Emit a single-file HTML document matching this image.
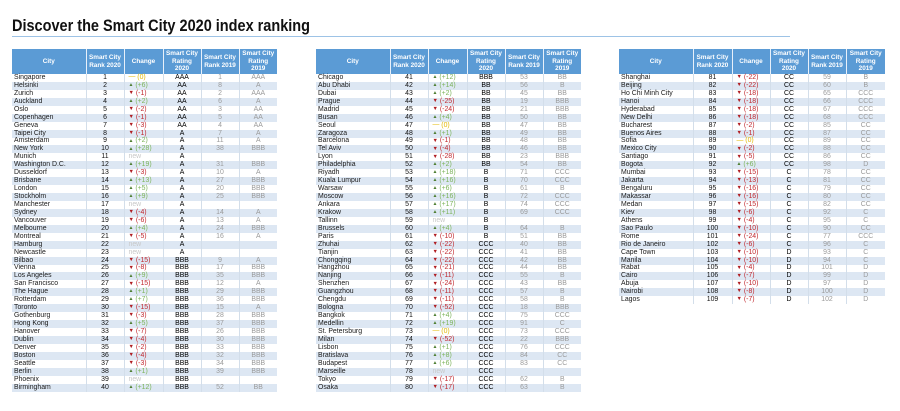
<!DOCTYPE html>
<html><head><meta charset="utf-8"><style>
*{margin:0;padding:0;box-sizing:border-box}
body{width:900px;height:411px;background:#fff;position:relative;overflow:hidden;font-family:"Liberation Sans",Arial,sans-serif}
#title{position:absolute;left:12px;top:13px}
#rule{position:absolute;left:12px;top:36px;width:778px;height:1px;background:#9dc3e6}
table{position:absolute;top:49px;border-collapse:collapse;table-layout:fixed;font-size:6.9px;color:#111}
th{background:#5b9bd5;color:#fff;font-weight:bold;height:25px;line-height:7.6px;font-size:6.4px;border-right:1px solid #e8f0fa;text-align:center;vertical-align:middle}
th:last-child{border-right:none}
tbody tr{height:7.95px}
td{height:7.95px;max-height:7.95px;line-height:6px;white-space:nowrap;text-align:center;border-right:1px solid #d3deea;vertical-align:middle}
td:last-child{border-right:none}
tbody tr:nth-child(even) td{background:#dde7f3}
td:first-child{text-align:left;padding-left:2px;color:#1a1a1a}
td:nth-child(3){text-align:left;padding-left:4px}
td:nth-child(4){color:#000}
td:nth-child(5),td:nth-child(6){color:#9a9a9a}
i{font-style:normal;line-height:0;display:inline-block;vertical-align:middle}
.u{color:#7cb35a}.u i{color:#4f7f33;font-size:5px}
.d{color:#c0272d}.d i{color:#b01e23;font-size:5.5px}
.n{color:#c8c8c8}
.z{color:#e2b800}
</style></head><body>
<svg id="title" width="320" height="24"><text x="0" y="18" font-family="Liberation Sans, sans-serif" font-weight="bold" font-size="17" fill="#111" textLength="298" lengthAdjust="spacingAndGlyphs">Discover the Smart City 2020 index ranking</text></svg>
<div id="rule"></div>

<table style="left:12px;width:265px">
<colgroup><col style="width:74px"><col style="width:38px"><col style="width:39px"><col style="width:38px"><col style="width:38px"><col style="width:38px"></colgroup>
<thead><tr><th>City</th><th>Smart City<br>Rank 2020</th><th>Change</th><th>Smart City<br>Rating<br>2020</th><th>Smart City<br>Rank 2019</th><th>Smart City<br>Rating<br>2019</th></tr></thead>
<tbody>
<tr><td>Singapore</td><td>1</td><td class="z"><i>—</i> (0)</td><td>AAA</td><td>1</td><td>AAA</td></tr>
<tr><td>Helsinki</td><td>2</td><td class="u"><i>▲</i> (+6)</td><td>AA</td><td>8</td><td>A</td></tr>
<tr><td>Zurich</td><td>3</td><td class="d"><i>▼</i> (-1)</td><td>AA</td><td>2</td><td>AAA</td></tr>
<tr><td>Auckland</td><td>4</td><td class="u"><i>▲</i> (+2)</td><td>AA</td><td>6</td><td>A</td></tr>
<tr><td>Oslo</td><td>5</td><td class="d"><i>▼</i> (-2)</td><td>AA</td><td>3</td><td>AA</td></tr>
<tr><td>Copenhagen</td><td>6</td><td class="d"><i>▼</i> (-1)</td><td>AA</td><td>5</td><td>AA</td></tr>
<tr><td>Geneva</td><td>7</td><td class="d"><i>▼</i> (-3)</td><td>AA</td><td>4</td><td>AA</td></tr>
<tr><td>Taipei City</td><td>8</td><td class="d"><i>▼</i> (-1)</td><td>A</td><td>7</td><td>A</td></tr>
<tr><td>Amsterdam</td><td>9</td><td class="u"><i>▲</i> (+2)</td><td>A</td><td>11</td><td>A</td></tr>
<tr><td>New York</td><td>10</td><td class="u"><i>▲</i> (+28)</td><td>A</td><td>38</td><td>BBB</td></tr>
<tr><td>Munich</td><td>11</td><td class="n">new</td><td>A</td><td></td><td></td></tr>
<tr><td>Washington D.C.</td><td>12</td><td class="u"><i>▲</i> (+19)</td><td>A</td><td>31</td><td>BBB</td></tr>
<tr><td>Dusseldorf</td><td>13</td><td class="d"><i>▼</i> (-3)</td><td>A</td><td>10</td><td>A</td></tr>
<tr><td>Brisbane</td><td>14</td><td class="u"><i>▲</i> (+13)</td><td>A</td><td>27</td><td>BBB</td></tr>
<tr><td>London</td><td>15</td><td class="u"><i>▲</i> (+5)</td><td>A</td><td>20</td><td>BBB</td></tr>
<tr><td>Stockholm</td><td>16</td><td class="u"><i>▲</i> (+9)</td><td>A</td><td>25</td><td>BBB</td></tr>
<tr><td>Manchester</td><td>17</td><td class="n">new</td><td>A</td><td></td><td></td></tr>
<tr><td>Sydney</td><td>18</td><td class="d"><i>▼</i> (-4)</td><td>A</td><td>14</td><td>A</td></tr>
<tr><td>Vancouver</td><td>19</td><td class="d"><i>▼</i> (-6)</td><td>A</td><td>13</td><td>A</td></tr>
<tr><td>Melbourne</td><td>20</td><td class="u"><i>▲</i> (+4)</td><td>A</td><td>24</td><td>BBB</td></tr>
<tr><td>Montreal</td><td>21</td><td class="d"><i>▼</i> (-5)</td><td>A</td><td>16</td><td>A</td></tr>
<tr><td>Hamburg</td><td>22</td><td class="n">new</td><td>A</td><td></td><td></td></tr>
<tr><td>Newcastle</td><td>23</td><td class="n">new</td><td>A</td><td></td><td></td></tr>
<tr><td>Bilbao</td><td>24</td><td class="d"><i>▼</i> (-15)</td><td>BBB</td><td>9</td><td>A</td></tr>
<tr><td>Vienna</td><td>25</td><td class="d"><i>▼</i> (-8)</td><td>BBB</td><td>17</td><td>BBB</td></tr>
<tr><td>Los Angeles</td><td>26</td><td class="u"><i>▲</i> (+9)</td><td>BBB</td><td>35</td><td>BBB</td></tr>
<tr><td>San Francisco</td><td>27</td><td class="d"><i>▼</i> (-15)</td><td>BBB</td><td>12</td><td>A</td></tr>
<tr><td>The Hague</td><td>28</td><td class="u"><i>▲</i> (+1)</td><td>BBB</td><td>29</td><td>BBB</td></tr>
<tr><td>Rotterdam</td><td>29</td><td class="u"><i>▲</i> (+7)</td><td>BBB</td><td>36</td><td>BBB</td></tr>
<tr><td>Toronto</td><td>30</td><td class="d"><i>▼</i> (-15)</td><td>BBB</td><td>15</td><td>A</td></tr>
<tr><td>Gothenburg</td><td>31</td><td class="d"><i>▼</i> (-3)</td><td>BBB</td><td>28</td><td>BBB</td></tr>
<tr><td>Hong Kong</td><td>32</td><td class="u"><i>▲</i> (+5)</td><td>BBB</td><td>37</td><td>BBB</td></tr>
<tr><td>Hanover</td><td>33</td><td class="d"><i>▼</i> (-7)</td><td>BBB</td><td>26</td><td>BBB</td></tr>
<tr><td>Dublin</td><td>34</td><td class="d"><i>▼</i> (-4)</td><td>BBB</td><td>30</td><td>BBB</td></tr>
<tr><td>Denver</td><td>35</td><td class="d"><i>▼</i> (-2)</td><td>BBB</td><td>33</td><td>BBB</td></tr>
<tr><td>Boston</td><td>36</td><td class="d"><i>▼</i> (-4)</td><td>BBB</td><td>32</td><td>BBB</td></tr>
<tr><td>Seattle</td><td>37</td><td class="d"><i>▼</i> (-3)</td><td>BBB</td><td>34</td><td>BBB</td></tr>
<tr><td>Berlin</td><td>38</td><td class="u"><i>▲</i> (+1)</td><td>BBB</td><td>39</td><td>BBB</td></tr>
<tr><td>Phoenix</td><td>39</td><td class="n">new</td><td>BBB</td><td></td><td></td></tr>
<tr><td>Birmingham</td><td>40</td><td class="u"><i>▲</i> (+12)</td><td>BBB</td><td>52</td><td>BB</td></tr>
</tbody></table>

<table style="left:316px;width:265px">
<colgroup><col style="width:74px"><col style="width:38px"><col style="width:39px"><col style="width:38px"><col style="width:38px"><col style="width:38px"></colgroup>
<thead><tr><th>City</th><th>Smart City<br>Rank 2020</th><th>Change</th><th>Smart City<br>Rating<br>2020</th><th>Smart City<br>Rank 2019</th><th>Smart City<br>Rating<br>2019</th></tr></thead>
<tbody>
<tr><td>Chicago</td><td>41</td><td class="u"><i>▲</i> (+12)</td><td>BBB</td><td>53</td><td>BB</td></tr>
<tr><td>Abu Dhabi</td><td>42</td><td class="u"><i>▲</i> (+14)</td><td>BB</td><td>56</td><td>B</td></tr>
<tr><td>Dubai</td><td>43</td><td class="u"><i>▲</i> (+2)</td><td>BB</td><td>45</td><td>BB</td></tr>
<tr><td>Prague</td><td>44</td><td class="d"><i>▼</i> (-25)</td><td>BB</td><td>19</td><td>BBB</td></tr>
<tr><td>Madrid</td><td>45</td><td class="d"><i>▼</i> (-24)</td><td>BB</td><td>21</td><td>BBB</td></tr>
<tr><td>Busan</td><td>46</td><td class="u"><i>▲</i> (+4)</td><td>BB</td><td>50</td><td>BB</td></tr>
<tr><td>Seoul</td><td>47</td><td class="z"><i>—</i> (0)</td><td>BB</td><td>47</td><td>BB</td></tr>
<tr><td>Zaragoza</td><td>48</td><td class="u"><i>▲</i> (+1)</td><td>BB</td><td>49</td><td>BB</td></tr>
<tr><td>Barcelona</td><td>49</td><td class="d"><i>▼</i> (-1)</td><td>BB</td><td>48</td><td>BB</td></tr>
<tr><td>Tel Aviv</td><td>50</td><td class="d"><i>▼</i> (-4)</td><td>BB</td><td>46</td><td>BB</td></tr>
<tr><td>Lyon</td><td>51</td><td class="d"><i>▼</i> (-28)</td><td>BB</td><td>23</td><td>BBB</td></tr>
<tr><td>Philadelphia</td><td>52</td><td class="u"><i>▲</i> (+2)</td><td>BB</td><td>54</td><td>BB</td></tr>
<tr><td>Riyadh</td><td>53</td><td class="u"><i>▲</i> (+18)</td><td>B</td><td>71</td><td>CCC</td></tr>
<tr><td>Kuala Lumpur</td><td>54</td><td class="u"><i>▲</i> (+16)</td><td>B</td><td>70</td><td>CCC</td></tr>
<tr><td>Warsaw</td><td>55</td><td class="u"><i>▲</i> (+6)</td><td>B</td><td>61</td><td>B</td></tr>
<tr><td>Moscow</td><td>56</td><td class="u"><i>▲</i> (+16)</td><td>B</td><td>72</td><td>CCC</td></tr>
<tr><td>Ankara</td><td>57</td><td class="u"><i>▲</i> (+17)</td><td>B</td><td>74</td><td>CCC</td></tr>
<tr><td>Krakow</td><td>58</td><td class="u"><i>▲</i> (+11)</td><td>B</td><td>69</td><td>CCC</td></tr>
<tr><td>Tallinn</td><td>59</td><td class="n">new</td><td>B</td><td></td><td></td></tr>
<tr><td>Brussels</td><td>60</td><td class="u"><i>▲</i> (+4)</td><td>B</td><td>64</td><td>B</td></tr>
<tr><td>Paris</td><td>61</td><td class="d"><i>▼</i> (-10)</td><td>B</td><td>51</td><td>BB</td></tr>
<tr><td>Zhuhai</td><td>62</td><td class="d"><i>▼</i> (-22)</td><td>CCC</td><td>40</td><td>BB</td></tr>
<tr><td>Tianjin</td><td>63</td><td class="d"><i>▼</i> (-22)</td><td>CCC</td><td>41</td><td>BB</td></tr>
<tr><td>Chongqing</td><td>64</td><td class="d"><i>▼</i> (-22)</td><td>CCC</td><td>42</td><td>BB</td></tr>
<tr><td>Hangzhou</td><td>65</td><td class="d"><i>▼</i> (-21)</td><td>CCC</td><td>44</td><td>BB</td></tr>
<tr><td>Nanjing</td><td>66</td><td class="d"><i>▼</i> (-11)</td><td>CCC</td><td>55</td><td>B</td></tr>
<tr><td>Shenzhen</td><td>67</td><td class="d"><i>▼</i> (-24)</td><td>CCC</td><td>43</td><td>BB</td></tr>
<tr><td>Guangzhou</td><td>68</td><td class="d"><i>▼</i> (-11)</td><td>CCC</td><td>57</td><td>B</td></tr>
<tr><td>Chengdu</td><td>69</td><td class="d"><i>▼</i> (-11)</td><td>CCC</td><td>58</td><td>B</td></tr>
<tr><td>Bologna</td><td>70</td><td class="d"><i>▼</i> (-52)</td><td>CCC</td><td>18</td><td>BBB</td></tr>
<tr><td>Bangkok</td><td>71</td><td class="u"><i>▲</i> (+4)</td><td>CCC</td><td>75</td><td>CCC</td></tr>
<tr><td>Medellin</td><td>72</td><td class="u"><i>▲</i> (+19)</td><td>CCC</td><td>91</td><td>C</td></tr>
<tr><td>St. Petersburg</td><td>73</td><td class="z"><i>—</i> (0)</td><td>CCC</td><td>73</td><td>CCC</td></tr>
<tr><td>Milan</td><td>74</td><td class="d"><i>▼</i> (-52)</td><td>CCC</td><td>22</td><td>BBB</td></tr>
<tr><td>Lisbon</td><td>75</td><td class="u"><i>▲</i> (+1)</td><td>CCC</td><td>76</td><td>CCC</td></tr>
<tr><td>Bratislava</td><td>76</td><td class="u"><i>▲</i> (+8)</td><td>CCC</td><td>84</td><td>CC</td></tr>
<tr><td>Budapest</td><td>77</td><td class="u"><i>▲</i> (+6)</td><td>CCC</td><td>83</td><td>CC</td></tr>
<tr><td>Marseille</td><td>78</td><td class="n">new</td><td>CCC</td><td></td><td></td></tr>
<tr><td>Tokyo</td><td>79</td><td class="d"><i>▼</i> (-17)</td><td>CCC</td><td>62</td><td>B</td></tr>
<tr><td>Osaka</td><td>80</td><td class="d"><i>▼</i> (-17)</td><td>CCC</td><td>63</td><td>B</td></tr>
</tbody></table>

<table style="left:619px;width:266px">
<colgroup><col style="width:74px"><col style="width:39px"><col style="width:38px"><col style="width:38px"><col style="width:38px"><col style="width:39px"></colgroup>
<thead><tr><th>City</th><th>Smart City<br>Rank 2020</th><th>Change</th><th>Smart City<br>Rating<br>2020</th><th>Smart City<br>Rank 2019</th><th>Smart City<br>Rating<br>2019</th></tr></thead>
<tbody>
<tr><td>Shanghai</td><td>81</td><td class="d"><i>▼</i> (-22)</td><td>CC</td><td>59</td><td>B</td></tr>
<tr><td>Beijing</td><td>82</td><td class="d"><i>▼</i> (-22)</td><td>CC</td><td>60</td><td>B</td></tr>
<tr><td>Ho Chi Minh City</td><td>83</td><td class="d"><i>▼</i> (-18)</td><td>CC</td><td>65</td><td>CCC</td></tr>
<tr><td>Hanoi</td><td>84</td><td class="d"><i>▼</i> (-18)</td><td>CC</td><td>66</td><td>CCC</td></tr>
<tr><td>Hyderabad</td><td>85</td><td class="d"><i>▼</i> (-18)</td><td>CC</td><td>67</td><td>CCC</td></tr>
<tr><td>New Delhi</td><td>86</td><td class="d"><i>▼</i> (-18)</td><td>CC</td><td>68</td><td>CCC</td></tr>
<tr><td>Bucharest</td><td>87</td><td class="d"><i>▼</i> (-2)</td><td>CC</td><td>85</td><td>CC</td></tr>
<tr><td>Buenos Aires</td><td>88</td><td class="d"><i>▼</i> (-1)</td><td>CC</td><td>87</td><td>CC</td></tr>
<tr><td>Sofia</td><td>89</td><td class="z"><i>—</i> (0)</td><td>CC</td><td>89</td><td>CC</td></tr>
<tr><td>Mexico City</td><td>90</td><td class="d"><i>▼</i> (-2)</td><td>CC</td><td>88</td><td>CC</td></tr>
<tr><td>Santiago</td><td>91</td><td class="d"><i>▼</i> (-5)</td><td>CC</td><td>86</td><td>CC</td></tr>
<tr><td>Bogota</td><td>92</td><td class="u"><i>▲</i> (+6)</td><td>CC</td><td>98</td><td>D</td></tr>
<tr><td>Mumbai</td><td>93</td><td class="d"><i>▼</i> (-15)</td><td>C</td><td>78</td><td>CC</td></tr>
<tr><td>Jakarta</td><td>94</td><td class="d"><i>▼</i> (-13)</td><td>C</td><td>81</td><td>CC</td></tr>
<tr><td>Bengaluru</td><td>95</td><td class="d"><i>▼</i> (-16)</td><td>C</td><td>79</td><td>CC</td></tr>
<tr><td>Makassar</td><td>96</td><td class="d"><i>▼</i> (-16)</td><td>C</td><td>80</td><td>CC</td></tr>
<tr><td>Medan</td><td>97</td><td class="d"><i>▼</i> (-15)</td><td>C</td><td>82</td><td>CC</td></tr>
<tr><td>Kiev</td><td>98</td><td class="d"><i>▼</i> (-6)</td><td>C</td><td>92</td><td>C</td></tr>
<tr><td>Athens</td><td>99</td><td class="d"><i>▼</i> (-4)</td><td>C</td><td>95</td><td>C</td></tr>
<tr><td>Sao Paulo</td><td>100</td><td class="d"><i>▼</i> (-10)</td><td>C</td><td>90</td><td>CC</td></tr>
<tr><td>Rome</td><td>101</td><td class="d"><i>▼</i> (-24)</td><td>C</td><td>77</td><td>CCC</td></tr>
<tr><td>Rio de Janeiro</td><td>102</td><td class="d"><i>▼</i> (-6)</td><td>C</td><td>96</td><td>C</td></tr>
<tr><td>Cape Town</td><td>103</td><td class="d"><i>▼</i> (-10)</td><td>D</td><td>93</td><td>C</td></tr>
<tr><td>Manila</td><td>104</td><td class="d"><i>▼</i> (-10)</td><td>D</td><td>94</td><td>C</td></tr>
<tr><td>Rabat</td><td>105</td><td class="d"><i>▼</i> (-4)</td><td>D</td><td>101</td><td>D</td></tr>
<tr><td>Cairo</td><td>106</td><td class="d"><i>▼</i> (-7)</td><td>D</td><td>99</td><td>D</td></tr>
<tr><td>Abuja</td><td>107</td><td class="d"><i>▼</i> (-10)</td><td>D</td><td>97</td><td>D</td></tr>
<tr><td>Nairobi</td><td>108</td><td class="d"><i>▼</i> (-8)</td><td>D</td><td>100</td><td>D</td></tr>
<tr><td>Lagos</td><td>109</td><td class="d"><i>▼</i> (-7)</td><td>D</td><td>102</td><td>D</td></tr>
</tbody></table>
</body></html>
